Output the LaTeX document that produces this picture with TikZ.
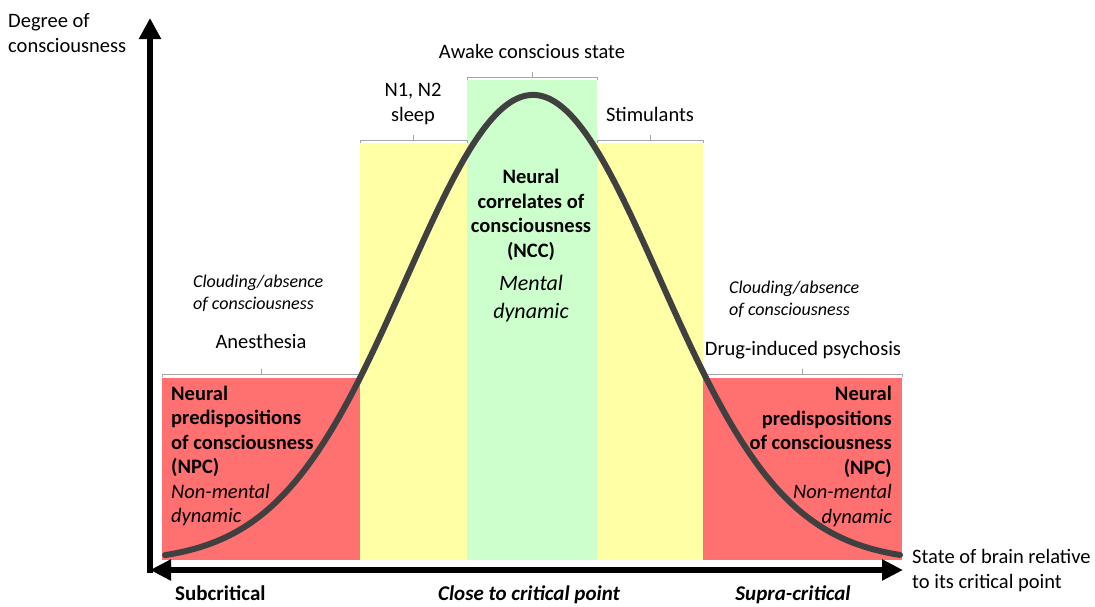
\documentclass[tikz,border=0pt]{standalone}
\usepackage{fontspec}
\setmainfont{Carlito}
\usetikzlibrary{arrows.meta}
\definecolor{npcred}{HTML}{FF7070}
\definecolor{sleepyel}{HTML}{FFFFA6}
\definecolor{nccgreen}{HTML}{CCFFCC}
\definecolor{curvegray}{HTML}{404040}
\definecolor{brgray}{HTML}{A6A6A6}
\tikzset{
  regtxt/.style={inner sep=0pt, font=\fontsize{20.5}{24.5}\selectfont},
  boldtxt/.style={inner sep=0pt, font=\fontsize{20.5}{24.5}\selectfont\bfseries},
  ittxt/.style={inner sep=0pt, font=\fontsize{18}{22}\selectfont\itshape},
  bigit/.style={inner sep=0pt, font=\fontsize{22}{28}\selectfont\itshape},
  bottomtxt/.style={inner sep=0pt, font=\fontsize{21}{25}\selectfont\bfseries},
  bracket/.style={draw=brgray, line width=1pt},
  axis/.style={line width=6.5pt, draw=black},
}
\newcommand{\brk}[3]{% x1, x2, y
  \draw[bracket] (#1,#3+3) -- (#1,#3) -- (#2,#3) -- (#2,#3+3);
  \draw[bracket] ({(#1+#2)/2},#3) -- ({(#1+#2)/2},#3-5);
}
\begin{document}
\begin{tikzpicture}[x=1pt,y=-1pt]
\useasboundingbox (0,0) rectangle (1095,606);
% regions
\fill[npcred] (162,378) rectangle (360,560);
\fill[sleepyel] (360,143) rectangle (467,560);
\fill[nccgreen] (467,80) rectangle (597,560);
\fill[sleepyel] (597,143) rectangle (703,560);
\fill[npcred] (703,378) rectangle (902,560);
% brackets
\brk{467}{597}{77}
\brk{360}{467}{140}
\brk{597}{703}{140}
\brk{162}{360}{374}
\brk{703}{902}{374}
% curve
\draw[curvegray, line width=6pt, line cap=round]
  plot[domain=165:900, samples=160, smooth] (\x,{562-467*exp(-0.5*((\x-533)/126.8)^2)});
% axes
\coordinate (ybot) at (150,573);
\coordinate (ytop) at (150,18);
\coordinate (xl) at (150,570);
\coordinate (xr) at (903,570);
\draw[axis, -{Triangle[length=21pt,width=21pt]}] (ybot) -- (ytop);
\draw[axis, {Triangle[length=21pt,width=20pt]}-{Triangle[length=21pt,width=20pt]}] (xl) -- (xr);
% labels (base anchor = baseline of last line)
\node[regtxt, anchor=base west, align=left] (ylab) at (8,52) {Degree of\\consciousness};
\node[regtxt, anchor=base west, align=left] (xlab) at (912,588) {State of brain relative\\to its critical point};
\node[regtxt, anchor=base] (awake) at (532,58) {Awake conscious state};
\node[regtxt, anchor=base, align=center] (n1) at (413,121) {N1, N2\\sleep};
\node[regtxt, anchor=base] (stim) at (650,121) {Stimulants};
\node[regtxt, anchor=base] (anes) at (261,348) {Anesthesia};
\node[regtxt, anchor=base] (drug) at (803,355) {Drug-induced psychosis};
\node[ittxt, anchor=base west, align=left] (cloudl) at (193,309) {Clouding/absence\\of consciousness};
\node[ittxt, anchor=base west, align=left] (cloudr) at (729,315) {Clouding/absence\\of consciousness};
\node[boldtxt, anchor=base west, align=left] (npcl) at (171,522.5) {Neural\\predispositions\\of consciousness\\(NPC)\\{\mdseries\itshape Non-mental}\\{\mdseries\itshape dynamic}};
\node[boldtxt, anchor=base east, align=right] (npcr) at (892,523) {Neural\\predispositions\\of consciousness\\(NPC)\\{\mdseries\itshape Non-mental}\\{\mdseries\itshape dynamic}};
\node[boldtxt, anchor=base, align=center] (ncc) at (531,257) {Neural\\correlates of\\consciousness\\(NCC)};
\node[bigit, anchor=base, align=center] (ment) at (531,318) {Mental\\dynamic};
\node[bottomtxt, anchor=base west] (sub) at (175,600) {Subcritical};
\node[bottomtxt, anchor=base, font=\fontsize{21}{25}\selectfont\bfseries\itshape] (close) at (529,600) {Close to critical point};
\node[bottomtxt, anchor=base, font=\fontsize{21}{25}\selectfont\bfseries\itshape] (supra) at (793,600) {Supra-critical};
\end{tikzpicture}
\end{document}
